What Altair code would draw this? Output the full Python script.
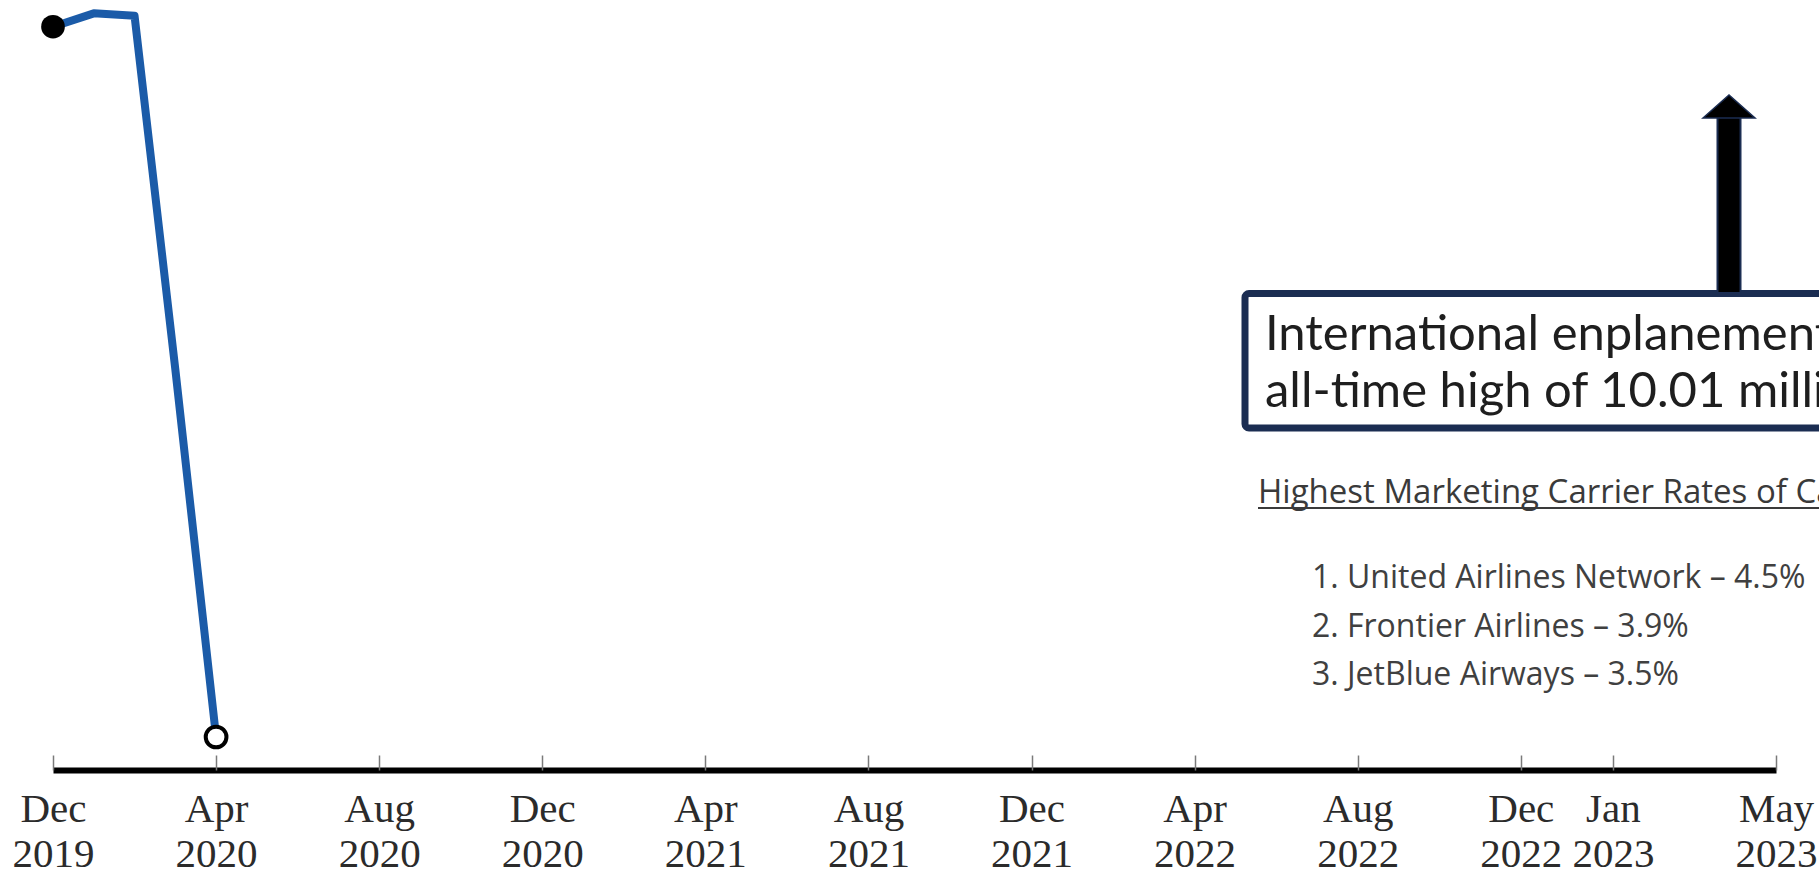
import altair as alt
import pandas as pd

# ---- data ----
months = ["Dec 2019", "Jan 2020", "Feb 2020", "Mar 2020", "Apr 2020"]
month_pos = [0.0, 0.25, 0.5, 0.75, 1.0]          # 1 unit = 4 months on the axis
enplanements = [9.46, 9.63, 9.60, 5.10, 0.42]    # millions (estimated)

tick_labels = ["Dec 2019", "Apr 2020", "Aug 2020", "Dec 2020", "Apr 2021", "Aug 2021",
               "Dec 2021", "Apr 2022", "Aug 2022", "Dec 2022", "Jan 2023", "May 2023"]
tick_pos = [0, 1, 2, 3, 4, 5, 6, 7, 8, 9, 9.565, 10.565]

box_lines = ["International enplanements reached an", "all-time high of 10.01 million"]
list_header = ["Highest Marketing Carrier Rates of Cancellation"]
list_items = ["1. United Airlines Network – 4.5%", "2. Frontier Airlines – 3.9%",
              "3. JetBlue Airways – 3.5%"]

# ---- layout ----
W, H = 1723, 770
PAD = {"left": 53, "right": 43, "top": 0, "bottom": 106}
X_MAX, Y_MAX = 10.565, 9.8


def gx(px):  # page pixel -> x data unit (annotation placement)
    return (px - PAD["left"]) / W * X_MAX


def gy(px):  # page pixel -> y data unit
    return (H - px) / H * Y_MAX


xs = alt.Scale(domain=[0, X_MAX], nice=False, zero=False)
ys = alt.Scale(domain=[0, Y_MAX], nice=False, zero=False)

series = pd.DataFrame({"month": months, "pos": month_pos, "val": enplanements})
ticks = pd.DataFrame({"pos": tick_pos, "label": tick_labels})

expr = "''"
for p, lab in reversed(list(zip(tick_pos, tick_labels))):
    expr = f"(abs(datum.value - {p}) < 0.001 ? '{lab}' : {expr})"
label_expr = f"split({expr}, ' ')"

main_axis = alt.Axis(orient="bottom", values=tick_pos, labelExpr=label_expr, ticks=False,
                     tickSize=0, domainColor="black", domainWidth=6, grid=False, title="",
                     labelFont="Liberation Serif", labelFontSize=41, labelColor="#2b2b2b",
                     labelPadding=51, labelBaseline="alphabetic", labelLineHeight=45,
                     labelOverlap=False, labelBound=False, labelFlush=False)
tick_axis = alt.Axis(orient="bottom", values=tick_pos, offset=-15, domain=False,
                     labels=False, ticks=True, tickSize=15, tickColor="#7a7a7a",
                     tickWidth=1.5, grid=False, title="")

line = alt.Chart(series).mark_line(color="#1b5ba8", strokeWidth=8, strokeJoin="round").encode(
    x=alt.X("pos:Q", scale=xs, axis=main_axis),
    y=alt.Y("val:Q", scale=ys, axis=None),
)

tick_layer = alt.Chart(ticks).mark_point(opacity=0).encode(
    x=alt.X("pos:Q", scale=xs, axis=tick_axis),
)

start_pt = alt.Chart(series.iloc[[0]]).mark_point(
    filled=True, color="black", size=560, opacity=1).encode(
    x=alt.X("pos:Q", scale=xs, axis=None), y=alt.Y("val:Q", scale=ys, axis=None))

end_pt = alt.Chart(series.iloc[[-1]]).mark_point(
    filled=True, fill="white", stroke="black", strokeWidth=4, size=430, opacity=1).encode(
    x=alt.X("pos:Q", scale=xs, axis=None), y=alt.Y("val:Q", scale=ys, axis=None))

# annotation box
box_df = pd.DataFrame({"x": [gx(1245)], "x2": [gx(1950)], "y": [gy(293.5)], "y2": [gy(428)]})
box = alt.Chart(box_df).mark_rect(fill="white", stroke="#1b2d52", strokeWidth=7,
                                  cornerRadius=4).encode(
    x=alt.X("x:Q", scale=xs, axis=None), x2="x2:Q",
    y=alt.Y("y:Q", scale=ys, axis=None), y2="y2:Q")

box_text_df = pd.DataFrame({"t": box_lines, "x": [gx(1265)] * 2, "y": [gy(350), gy(407)]})
box_text = alt.Chart(box_text_df).mark_text(
    align="left", baseline="alphabetic", font="Lato", fontSize=49, color="#1e1e1e").encode(
    x=alt.X("x:Q", scale=xs, axis=None), y=alt.Y("y:Q", scale=ys, axis=None), text="t:N")

# arrow
shaft_df = pd.DataFrame({"x": [gx(1729)], "y": [gy(116)], "y2": [gy(292)]})
shaft_outline = alt.Chart(shaft_df).mark_rule(color="#1b2d52", strokeWidth=25).encode(
    x=alt.X("x:Q", scale=xs, axis=None), y=alt.Y("y:Q", scale=ys, axis=None), y2="y2:Q")
shaft = alt.Chart(shaft_df).mark_rule(color="black", strokeWidth=21).encode(
    x=alt.X("x:Q", scale=xs, axis=None), y=alt.Y("y:Q", scale=ys, axis=None), y2="y2:Q")
head_df = pd.DataFrame({"x": [gx(1729)], "y": [gy(106.5)]})
head = alt.Chart(head_df).mark_point(
    shape="M-1,0.44L0,-0.44L1,0.44Z", filled=True, fill="black", stroke="#1b2d52",
    strokeWidth=1.5, size=2704, opacity=1).encode(
    x=alt.X("x:Q", scale=xs, axis=None), y=alt.Y("y:Q", scale=ys, axis=None))

# list header + underline
hdr_df = pd.DataFrame({"t": list_header, "x": [gx(1258)], "y": [gy(503)]})
hdr = alt.Chart(hdr_df).mark_text(
    align="left", baseline="alphabetic", font="Open Sans", fontSize=33, color="#3a3a3a").encode(
    x=alt.X("x:Q", scale=xs, axis=None), y=alt.Y("y:Q", scale=ys, axis=None), text="t:N")
ul_df = pd.DataFrame({"x": [gx(1258)], "x2": [gx(1950)], "y": [gy(508)]})
underline = alt.Chart(ul_df).mark_rule(color="#3a3a3a", strokeWidth=2).encode(
    x=alt.X("x:Q", scale=xs, axis=None), x2="x2:Q", y=alt.Y("y:Q", scale=ys, axis=None))

items_df = pd.DataFrame({"t": list_items, "x": [gx(1312)] * 3,
                         "y": [gy(588), gy(637), gy(685)]})
items = alt.Chart(items_df).mark_text(
    align="left", baseline="alphabetic", font="Open Sans", fontSize=32, color="#404040").encode(
    x=alt.X("x:Q", scale=xs, axis=None), y=alt.Y("y:Q", scale=ys, axis=None), text="t:N")

chart = alt.layer(
    line, tick_layer, start_pt, end_pt, box, box_text,
    shaft_outline, shaft, head, hdr, underline, items
).resolve_axis(x="independent").properties(
    width=W, height=H,
    autosize=alt.AutoSizeParams(type="none"),
    padding=PAD,
    background="white",
).configure_view(stroke=None)

chart.save("out.html", embed_options={"renderer": "svg", "actions": False})
